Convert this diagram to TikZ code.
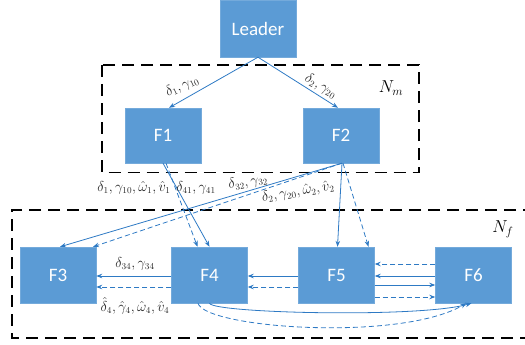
\documentclass[tikz,border=0pt]{standalone}
\usepackage{fontspec}
\setmainfont{Carlito}
\usetikzlibrary{arrows.meta,calc}
\definecolor{boxblue}{HTML}{5B9BD5}
\definecolor{linkblue}{RGB}{46,122,196}
\tikzset{
  agent/.style={fill=boxblue, draw=boxblue!85!white, minimum width=76pt, minimum height=56pt,
    inner sep=0pt, text=white, font=\fontsize{19}{22}\selectfont},
  group/.style={draw=black, line width=1.6pt, dash pattern=on 12pt off 7pt},
  link/.style={draw=linkblue, line width=0.8pt, -{Stealth[length=6pt,width=4.5pt]}},
  dlink/.style={link, dash pattern=on 5pt off 3pt},
  lbl/.style={font=\fontsize{13.5}{15}\selectfont, inner sep=0pt, text=black!85},
  glbl/.style={font=\fontsize{17}{19}\selectfont, inner sep=0pt}
}
\begin{document}
\begin{tikzpicture}[x=1pt,y=-1pt]
\useasboundingbox (0,0) rectangle (525,345);

% group frames
\draw[group] (102,65) rectangle (419,172.5);
\draw[group] (535,210) -- (12,210) -- (12,338) -- (535,338);
\node[glbl] (Nm) at (391,88) {$N_m$};
\node[glbl] (Nf) at (503,229) {$N_f$};

% agents
\node[agent, minimum height=57pt] (L) at (258,28.5) {Leader};
\node[agent, minimum height=55pt] (F1) at (163,135.5) {F1};
\node[agent, minimum height=55pt] (F2) at (341,135.5) {F2};
\node[agent] (F3) at (58,275) {F3};
\node[agent] (F4) at (209.5,275) {F4};
\node[agent] (F5) at (336.5,275) {F5};
\node[agent] (F6) at (473.5,275) {F6};

% leader to the first layer
\draw[link] (L.south) -- ([xshift=6pt]F1.north);
\draw[link] (L.south) -- ([xshift=-3pt]F2.north);

% first layer to the second layer
\draw[link] (F1.south) -- (F4.north);
\draw[dlink] ([xshift=3pt]F1.south) -- ([xshift=-12pt]F4.north);
\draw[link] ([xshift=1pt]F2.south) -- ([xshift=2pt]F3.north);
\draw[dlink] ([xshift=1pt]F2.south) -- ([xshift=35pt]F3.north);
\draw[link] ([xshift=1pt]F2.south) -- ([xshift=1pt]F5.north);
\draw[dlink] ([xshift=2pt]F2.south) -- ([xshift=32pt]F5.north);

% links inside the second layer
\draw[link] ([yshift=-1pt]F4.west) -- ([yshift=-1pt]F3.east);
\draw[dlink] ([yshift=-12pt]F4.west) -- ([yshift=-12pt]F3.east);
\draw[link] ([yshift=-1pt]F5.west) -- ([yshift=-1pt]F4.east);
\draw[dlink] ([yshift=-12pt]F5.west) -- ([yshift=-12pt]F4.east);
\draw[dlink] ([yshift=11pt]F6.west) -- ([yshift=11pt]F5.east);
\draw[link] ([yshift=-1pt]F6.west) -- ([yshift=-1pt]F5.east);
\draw[link] ([yshift=-10pt]F5.east) -- ([yshift=-10pt]F6.west);
\draw[dlink] ([yshift=-22pt]F5.east) -- ([yshift=-22pt]F6.west);

\draw[link] (F4.south) .. controls ($(F4.south)+(2.5,10)$) and ($(F6.south)+(-53.5,15)$) .. ([xshift=-2pt]F6.south);
\draw[dlink] ([xshift=-11.5pt]F4.south) .. controls ($(F4.south)+(-4.5,25)$) and ($(F6.south)+(-73.5,39)$) .. ([xshift=-7pt]F6.south);

% labels
\node[lbl, rotate=25] (l1) at (182,86) {$\delta_1,\gamma_{10}$};
\node[lbl, rotate=-30] (l2) at (321,86) {$\delta_2,\gamma_{20}$};
\node[lbl] (l3) at (134,188) {$\delta_1,\gamma_{10},\hat\omega_1,\hat v_1$};
\node[lbl] (l4) at (196,188) {$\delta_{41},\gamma_{41}$};
\node[lbl, rotate=10] (l5) at (248,182) {$\delta_{32},\gamma_{32}$};
\node[lbl, rotate=10] (l6) at (298,192) {$\delta_2,\gamma_{20},\hat\omega_2,\hat v_2$};
\node[lbl] (l7) at (135,264) {$\delta_{34},\gamma_{34}$};
\node[lbl] (l8) at (135,306) {$\hat\delta_4,\hat\gamma_4,\hat\omega_4,\hat v_4$};
\end{tikzpicture}
\end{document}
